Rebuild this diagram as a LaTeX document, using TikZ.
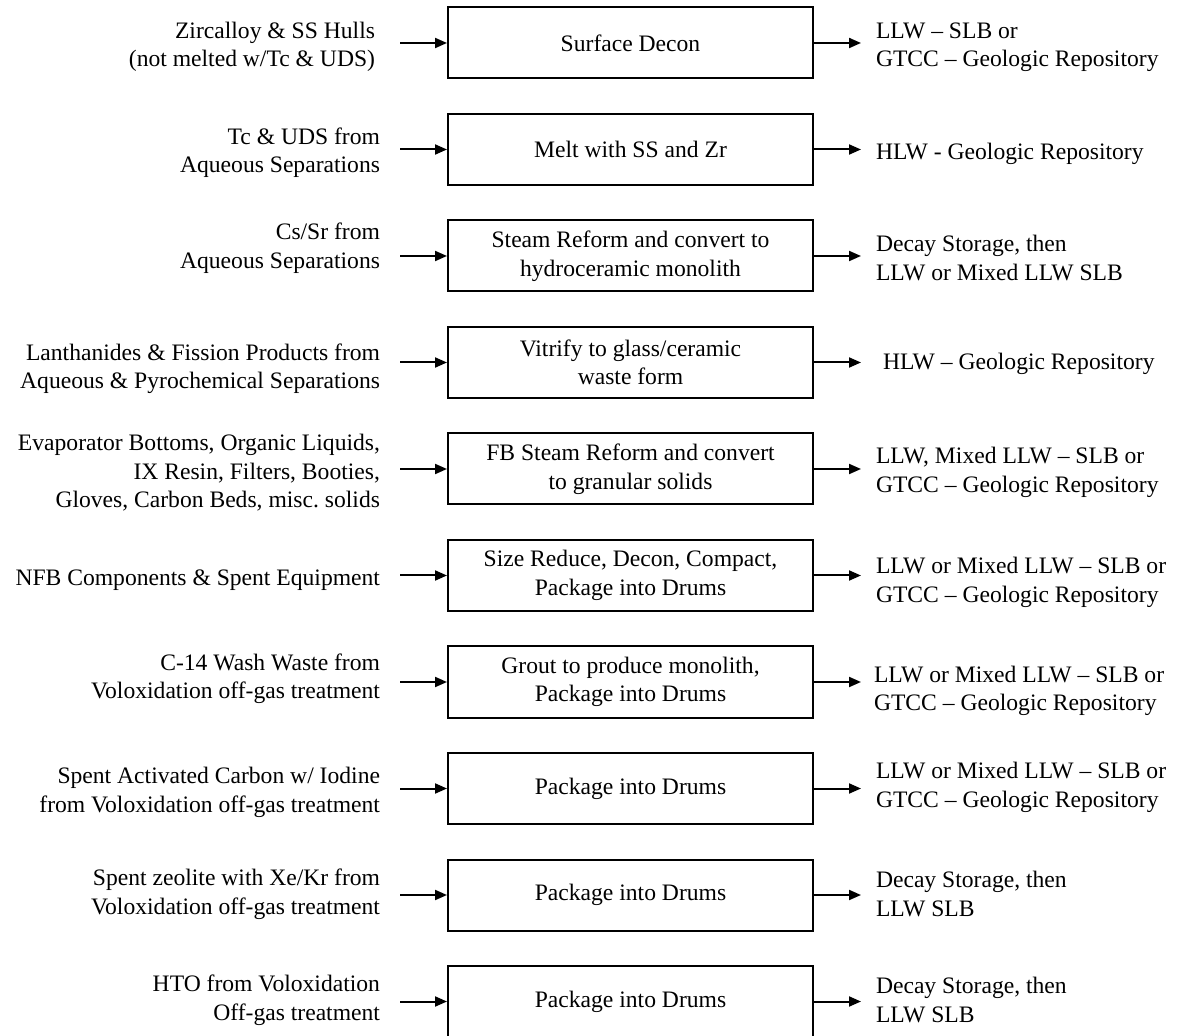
\documentclass[tikz,border=0pt]{standalone}
\usepackage{fontspec}
\setmainfont{Liberation Serif}
\usepackage{tikz}
\usetikzlibrary{positioning, arrows.meta}
\frenchspacing

\begin{document}
\begin{tikzpicture}[x=0.5pt, y=-0.5pt, node distance=16.75pt and 23.5pt, auto,
		font=\fontsize{11.8}{14.25}\selectfont]
		% Styles
		\tikzstyle{stage} = [rectangle, draw, line width=1pt, align=center,
		minimum width=182.5pt, minimum height=35.5pt, inner sep=0pt]
		\tikzstyle{source} = [align=right, inner xsep=10pt, inner ysep=0pt, outer sep=0pt]
		\tikzstyle{dest} = [align=left, inner xsep=7.5pt, inner ysep=0pt, outer sep=0pt]
		\tikzstyle{line} = [draw, line width=1pt, -{Triangle[length=6pt, width=5pt]}]

		\useasboundingbox (0,0) rectangle (1177,1036);

		% Nodes
		\node [stage] (decon) at (630.5,43) {Surface Decon};
		\node [stage, below=of decon] (melt) {Melt with SS and Zr};
		\node [stage, below=of melt] (reform) {Steam Reform and convert to\\ hydroceramic monolith};
		\node [stage, below=of reform] (vitrify) {Vitrify to glass/ceramic\\ waste form};
		\node [stage, below=of vitrify] (fbsr) {FB Steam Reform and convert\\ to granular solids};
		\node [stage, below=of fbsr] (sizered) {Size Reduce, Decon, Compact,\\ Package into Drums};
		\node [stage, below=of sizered] (grout) {Grout to produce monolith,\\ Package into Drums};
		\node [stage, below=of grout] (pkgcarbon) {Package into Drums};
		\node [stage, below=of pkgcarbon] (pkgzeolite) {Package into Drums};
		\node [stage, below=of pkgzeolite] (pkghto) {Package into Drums};

		\node [source, left=of decon, yshift=-2pt] (hulls) {Zircalloy \& SS Hulls\kern2.5pt\\ (not melted w/Tc \& UDS)\kern2.5pt};
		\node [source, left=of melt, yshift=-1.5pt] (tcuds) {Tc \& UDS from\\ Aqueous Separations};
		\node [source, left=of reform, yshift=4pt] (cssr) {Cs/Sr from\\ Aqueous Separations};
		\node [source, left=of vitrify, yshift=-3pt] (lanth) {Lanthanides \& Fission Products from\\ Aqueous \& Pyrochemical Separations};
		\node [source, left=of fbsr, yshift=-2pt] (evap) {Evaporator Bottoms, Organic Liquids,\\ IX Resin, Filters, Booties,\\ Gloves, Carbon Beds, misc. solids};
		\node [source, left=of sizered, yshift=-2.5pt] (nfb) {NFB Components \& Spent Equipment};
		\node [source, left=of grout, yshift=1.75pt] (cwash) {C-14 Wash Waste from\\ Voloxidation off-gas treatment};
		\node [source, left=of pkgcarbon, yshift=-2pt] (iodine) {Spent Activated Carbon w/ Iodine\\ from Voloxidation off-gas treatment};
		\node [source, left=of pkgzeolite, yshift=0.5pt] (xekr) {Spent zeolite with Xe/Kr from\\ Voloxidation off-gas treatment};
		\node [source, left=of pkghto, yshift=0.75pt] (hto) {HTO from Voloxidation\\ Off-gas treatment};

		\node [dest, right=of decon, yshift=-2pt] (deconout) {LLW -- SLB or\\ GTCC -- Geologic Repository};
		\node [dest, right=of melt, yshift=-2.25pt] (meltout) {HLW - Geologic Repository};
		\node [dest, right=of reform, yshift=-1pt] (reformout) {Decay Storage, then\\ LLW or Mixed LLW SLB};
		\node [dest, right=of vitrify, inner xsep=11pt, yshift=-0.5pt] (vitrifyout) {HLW -- Geologic Repository};
		\node [dest, right=of fbsr, yshift=-1.75pt] (fbsrout) {LLW, Mixed LLW -- SLB or\\ GTCC -- Geologic Repository};
		\node [dest, right=of sizered, yshift=-3.5pt] (sizeredout) {LLW or Mixed LLW -- SLB or\\ GTCC -- Geologic Repository};
		\node [dest, right=of grout, yshift=-4.5pt, inner xsep=6.5pt] (groutout) {LLW or Mixed LLW -- SLB or\\ GTCC -- Geologic Repository};
		\node [dest, right=of pkgcarbon, yshift=0.5pt] (carbonout) {LLW or Mixed LLW -- SLB or\\ GTCC -- Geologic Repository};
		\node [dest, right=of pkgzeolite, yshift=0.5pt] (zeoliteout) {Decay Storage, then\\ LLW SLB};
		\node [dest, right=of pkghto, yshift=0.75pt] (htoout) {Decay Storage, then\\ LLW SLB};

		% Connections
		\path [line] (hulls.east |- decon.west) -- (decon.west);
		\path [line] (tcuds.east |- melt.west) -- (melt.west);
		\path [line] (cssr.east |- reform.west) -- (reform.west);
		\path [line] (lanth.east |- vitrify.west) -- (vitrify.west);
		\path [line] (evap.east |- fbsr.west) -- (fbsr.west);
		\path [line] (nfb.east |- sizered.west) -- (sizered.west);
		\path [line] (cwash.east |- grout.west) -- (grout.west);
		\path [line] (iodine.east |- pkgcarbon.west) -- (pkgcarbon.west);
		\path [line] (xekr.east |- pkgzeolite.west) -- (pkgzeolite.west);
		\path [line] (hto.east |- pkghto.west) -- (pkghto.west);

		\path [line] (decon.east) -- (decon.east -| deconout.west);
		\path [line] (melt.east) -- (melt.east -| meltout.west);
		\path [line] (reform.east) -- (reform.east -| reformout.west);
		\path [line] (vitrify.east) -- (vitrify.east -| vitrifyout.west);
		\path [line] (fbsr.east) -- (fbsr.east -| fbsrout.west);
		\path [line] (sizered.east) -- (sizered.east -| sizeredout.west);
		\path [line] (grout.east) -- (grout.east -| groutout.west);
		\path [line] (pkgcarbon.east) -- (pkgcarbon.east -| carbonout.west);
		\path [line] (pkgzeolite.east) -- (pkgzeolite.east -| zeoliteout.west);
		\path [line] (pkghto.east) -- (pkghto.east -| htoout.west);
	\end{tikzpicture}
\end{document}
